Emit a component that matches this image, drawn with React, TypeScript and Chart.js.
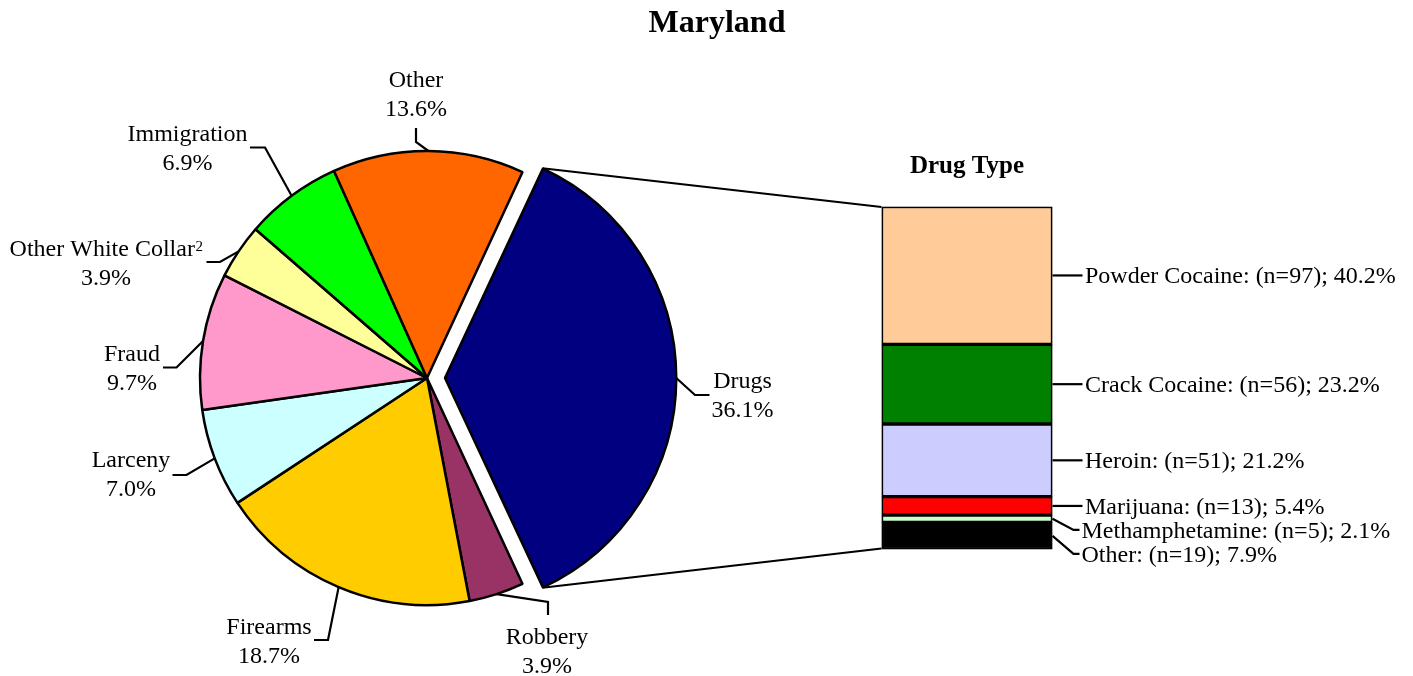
import React, { useEffect, useRef } from 'react';
import { Chart, registerables } from 'chart.js';

Chart.register(...registerables);

// ---------- data ----------
const chartTitle = 'Maryland';
const offenseLabels = ['Drugs', 'Robbery', 'Firearms', 'Larceny', 'Fraud', 'Other White Collar', 'Immigration', 'Other'];
const offenseFootnotes = ['', '', '', '', '', '2', '', ''];
const offensePercents = [36.1, 3.9, 18.7, 7.0, 9.7, 3.9, 6.9, 13.6];
const offenseColors = ['#000080', '#993366', '#FFCC00', '#CCFFFF', '#FF99CC', '#FFFF99', '#00FF00', '#FF6600'];

const barTitle = 'Drug Type';
const drugCategory = ['Drugs'];
const drugTypes = ['Powder Cocaine', 'Crack Cocaine', 'Heroin', 'Marijuana', 'Methamphetamine', 'Other'];
const drugCounts = [97, 56, 51, 13, 5, 19];
const drugPercents = [40.2, 23.2, 21.2, 5.4, 2.1, 7.9];
const drugColors = ['#FFCC99', '#008000', '#CCCCFF', '#FF0000', '#CCFFCC', '#000000'];

// ---------- layout ----------
const W = 1413;
const H = 676;
const FONT = '"Liberation Serif", "Times New Roman", Times, serif';
const PIE_CX = 427;
const PIE_CY = 378;
const PIE_R = 227;
const EXPLODE = 18; // px the Drugs slice is pulled out
const BAR_LEFT = 881.5;
const BAR_RIGHT = 1052.5;
const BAR_TOP = 206.5;
const BAR_BOTTOM = 549.5;
const LINE_GAP = 29;
const LINE_W = 2.2;

// label text position + leader elbow for each pie slice
const pieLabelLayout = [
  { elbow: [695, 395], end: [709.5, 395], cx: 742.5, base: 387.5 },
  { elbow: [548, 602], end: [548, 615], cx: 547, base: 644 },
  { elbow: [328, 640], end: [314, 640], cx: 269, base: 633.5 },
  { elbow: [186.5, 475], end: [172.5, 475], cx: 131, base: 467 },
  { elbow: [176.5, 367.5], end: [163, 367.5], cx: 132, base: 361 },
  { elbow: [220, 262], end: [206.5, 262], cx: 106, base: 256 },
  { elbow: [265, 147.5], end: [250, 147.5], cx: 187.5, base: 141 },
  { elbow: [416, 142], end: [416, 128], cx: 416, base: 86.7 },
];

const pieOffsets = offensePercents.map((_, i) => (i === 0 ? EXPLODE * 4 : 0));

function slicePoint(arc: any, i: number, angle: number) {
  const p = arc.getProps(['x', 'y', 'startAngle', 'endAngle', 'outerRadius'], true);
  const mid = (p.startAngle + p.endAngle) / 2;
  const off = (pieOffsets[i] || 0) / 4;
  const circ = p.endAngle - p.startAngle;
  const rOff = off * (1 - Math.sin(Math.min(Math.PI, circ)));
  const r = p.outerRadius + rOff;
  const cx = p.x + Math.cos(mid) * off;
  const cy = p.y + Math.sin(mid) * off;
  const a = angle === 0 ? p.startAngle : angle === 1 ? p.endAngle : mid;
  return [cx + Math.cos(a) * r, cy + Math.sin(a) * r];
}

export default function App() {
  const pieRef = useRef<HTMLCanvasElement | null>(null);
  const barRef = useRef<HTMLCanvasElement | null>(null);

  useEffect(() => {
    if (!pieRef.current || !barRef.current) return;
    const total = offensePercents.reduce((a, b) => a + b, 0);

    const pieLabelsPlugin = {
      id: 'pieLabels',
      afterDatasetsDraw(chart: any) {
        const ctx = chart.ctx;
        const meta = chart.getDatasetMeta(0);
        ctx.save();
        // title
        ctx.fillStyle = '#000';
        ctx.font = `bold 32px ${FONT}`;
        ctx.textAlign = 'center';
        ctx.textBaseline = 'alphabetic';
        ctx.fillText(chartTitle, 717, 31.5);

        ctx.strokeStyle = '#000';
        ctx.lineWidth = LINE_W;
        ctx.lineJoin = 'miter';
        meta.data.forEach((arc: any, i: number) => {
          const lay = pieLabelLayout[i];
          const [sx, sy] = slicePoint(arc, i, 2);
          ctx.beginPath();
          ctx.moveTo(sx, sy);
          ctx.lineTo(lay.elbow[0], lay.elbow[1]);
          ctx.lineTo(lay.end[0], lay.end[1]);
          ctx.stroke();

          const name = offenseLabels[i];
          const sup = offenseFootnotes[i];
          ctx.font = `24px ${FONT}`;
          const wMain = ctx.measureText(name).width;
          let wSup = 0;
          if (sup) {
            ctx.font = `15px ${FONT}`;
            wSup = ctx.measureText(sup).width;
          }
          const x0 = lay.cx - (wMain + wSup) / 2;
          ctx.textAlign = 'left';
          ctx.font = `24px ${FONT}`;
          ctx.fillText(name, x0, lay.base);
          if (sup) {
            ctx.font = `15px ${FONT}`;
            ctx.fillText(sup, x0 + wMain + 0.5, lay.base - 5);
          }
          ctx.font = `24px ${FONT}`;
          ctx.textAlign = 'center';
          ctx.fillText(`${offensePercents[i].toFixed(1)}%`, lay.cx, lay.base + LINE_GAP);
        });
        ctx.restore();
      },
    };

    const pie = new Chart(pieRef.current, {
      type: 'pie',
      data: {
        labels: offenseLabels,
        datasets: [
          {
            data: offensePercents,
            backgroundColor: offenseColors,
            borderColor: '#000000',
            borderWidth: 2.5,
            offset: pieOffsets,
            hoverOffset: 0,
          },
        ],
      },
      options: {
        responsive: false,
        animation: false,
        devicePixelRatio: 1,
        events: [],
        rotation: 90 - (180 * offensePercents[0]) / total,
        radius: PIE_R,
        layout: {
          padding: {
            left: PIE_CX - 250,
            right: W - PIE_CX - 250,
            top: PIE_CY - 250,
            bottom: H - PIE_CY - 250,
          },
        },
        plugins: {
          legend: { display: false },
          tooltip: { enabled: false },
          title: { display: false },
        },
      } as any,
      plugins: [pieLabelsPlugin],
    });

    const barLabelsPlugin = {
      id: 'barLabels',
      afterDraw(chart: any) {
        const ctx = chart.ctx;
        const area = chart.chartArea;
        ctx.save();
        ctx.fillStyle = '#000';
        ctx.strokeStyle = '#000';
        ctx.lineWidth = LINE_W;
        // bar title
        ctx.font = `bold 25px ${FONT}`;
        ctx.textAlign = 'center';
        ctx.textBaseline = 'alphabetic';
        ctx.fillText(barTitle, (area.left + area.right) / 2, area.top - 33.3);

        // connector lines from exploded slice to the bar
        const arc = pie.getDatasetMeta(0).data[0];
        if (arc) {
          const [tx, ty] = slicePoint(arc, 0, 0);
          const [bx, by] = slicePoint(arc, 0, 1);
          ctx.beginPath();
          ctx.moveTo(tx, ty);
          ctx.lineTo(area.left, area.top + 0.5);
          ctx.moveTo(bx, by);
          ctx.lineTo(area.left, area.bottom - 1);
          ctx.stroke();
        }

        // segment labels
        ctx.font = `24px ${FONT}`;
        ctx.textAlign = 'left';
        let prevY = -Infinity;
        drugTypes.forEach((t, i) => {
          const el = chart.getDatasetMeta(i).data[0];
          const p = el.getProps(['x', 'y', 'base', 'width'], true);
          const midY = (p.y + p.base) / 2;
          const right = p.x + p.width / 2;
          const ly = Math.max(midY, prevY + 24);
          prevY = ly;
          let tx: number;
          ctx.beginPath();
          ctx.moveTo(right, midY);
          if (ly - midY < 0.5) {
            ctx.lineTo(right + 30, midY);
            tx = right + 32.5;
          } else {
            ctx.lineTo(right + 21, ly);
            ctx.lineTo(right + 27, ly);
            tx = right + 29;
          }
          ctx.stroke();
          ctx.fillText(`${t}: (n=${drugCounts[i]}); ${drugPercents[i].toFixed(1)}%`, tx, ly + 8);
        });
        ctx.restore();
      },
    };

    const bar = new Chart(barRef.current, {
      type: 'bar',
      data: {
        labels: drugCategory,
        datasets: drugTypes.map((t, i) => ({
          label: t,
          data: [drugPercents[i]],
          backgroundColor: drugColors[i],
          borderColor: '#000000',
          borderWidth: 2,
          borderSkipped: false,
          barPercentage: 1,
          categoryPercentage: 1,
        })),
      },
      options: {
        responsive: false,
        animation: false,
        devicePixelRatio: 1,
        events: [],
        layout: {
          padding: {
            left: BAR_LEFT,
            right: W - BAR_RIGHT,
            top: BAR_TOP,
            bottom: H - BAR_BOTTOM,
          },
        },
        scales: {
          x: { stacked: true, display: false },
          y: { stacked: true, display: false, reverse: true, min: 0, max: 100 },
        },
        plugins: {
          legend: { display: false },
          tooltip: { enabled: false },
          title: { display: false },
        },
      } as any,
      plugins: [barLabelsPlugin],
    });

    return () => {
      bar.destroy();
      pie.destroy();
    };
  }, []);

  const canvasStyle: React.CSSProperties = {
    position: 'absolute',
    left: 0,
    top: 0,
    width: W,
    height: H,
  };

  return (
    <div style={{ position: 'absolute', left: 0, top: 0, width: W, height: H, background: '#ffffff', overflow: 'hidden' }}>
      <canvas ref={pieRef} width={W} height={H} style={canvasStyle} />
      <canvas ref={barRef} width={W} height={H} style={{ ...canvasStyle, pointerEvents: 'none' }} />
    </div>
  );
}
